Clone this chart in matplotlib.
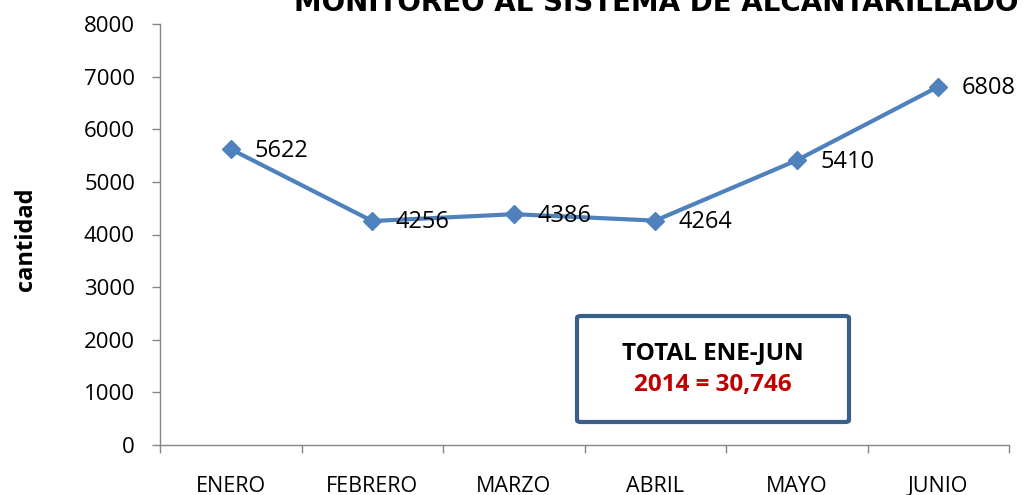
import matplotlib
matplotlib.use("Agg")
import matplotlib.pyplot as plt
from matplotlib.patches import FancyBboxPatch

meses = ["ENERO", "FEBRERO", "MARZO", "ABRIL", "MAYO", "JUNIO"]
cantidad = [5622, 4256, 4386, 4264, 5410, 6808]
yticks = [0, 1000, 2000, 3000, 4000, 5000, 6000, 7000, 8000]
titulo = "MONITOREO AL SISTEMA DE ALCANTARILLADO"
total_l1 = "TOTAL ENE-JUN"
total_l2 = "2014 = 30,746"

plt.rcParams['font.family'] = ['Open Sans', 'DejaVu Sans']

fig = plt.figure(figsize=(10.23, 4.95), dpi=100)
ax = fig.add_axes([160/1023, 1 - 445/495, (1009-160)/1023, (445-24)/495])

x = list(range(len(meses)))
ax.plot(x, cantidad, color='#4F81BD', lw=3, marker='D', markersize=9,
        markerfacecolor='#4F81BD', markeredgecolor='#4F81BD', clip_on=False)
for xi, v in zip(x, cantidad):
    ax.annotate(str(v), (xi, v), xytext=(17, -1), textcoords='offset points',
                ha='left', va='center', fontsize=17, color='black')

ax.set_xlim(-0.5, len(meses) - 0.5)
ax.set_ylim(0, 8000)
ax.set_yticks(yticks)
ax.set_xticks(x)
ax.set_xticklabels(meses, fontsize=15.5)
ax.set_xticks([i - 0.5 for i in range(len(meses) + 1)], minor=True)
ax.tick_params(axis='x', which='major', length=0, pad=22)
ax.tick_params(axis='x', which='minor', length=6, color='#868686', width=1)
ax.tick_params(axis='y', length=6, color='#868686', width=1, pad=12, labelsize=16)

for s in ['top', 'right']:
    ax.spines[s].set_visible(False)
for s in ['left', 'bottom']:
    ax.spines[s].set_color('#868686')
    ax.spines[s].set_linewidth(1)

# y label
fig.text(26/1023, 1 - 239/495, "cantidad", rotation=90, ha='center', va='center',
         fontsize=17, fontweight='bold')

# title (partly cut at the top, as in the original)
fig.text(656/1023, 1 - 11/495, titulo, ha='center', va='baseline',
         fontsize=20, fontweight='bold', family=['DejaVu Sans'])

# total box
box = FancyBboxPatch((577/1023, 1 - 422/495), (849-577)/1023, (422-316)/495,
                     boxstyle='round,pad=0,rounding_size=0.004', transform=fig.transFigure,
                     facecolor='white', edgecolor='#3A5F8B', linewidth=3)
fig.patches.append(box)
fig.text(713/1023, 1 - 353/495, total_l1, ha='center', va='center',
         fontsize=17.5, fontweight='bold', color='black')
fig.text(713/1023, 1 - 385/495, total_l2, ha='center', va='center',
         fontsize=17.5, fontweight='bold', color='#C00000')

fig.savefig('out.png', dpi=100)
